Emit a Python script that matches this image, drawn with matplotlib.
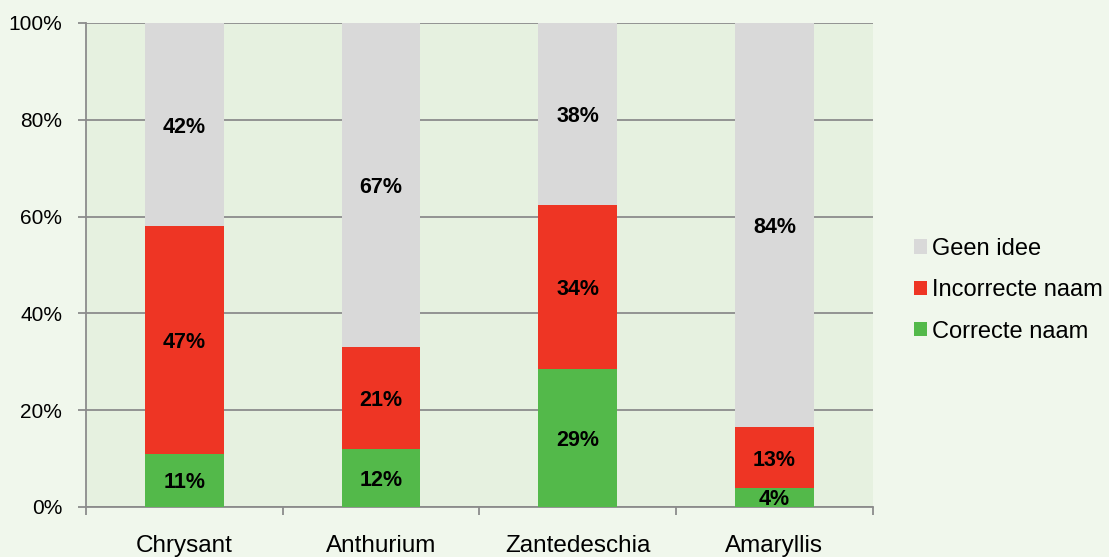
import matplotlib
matplotlib.use("Agg")
import matplotlib.pyplot as plt
import numpy as np

categories = ["Chrysant", "Anthurium", "Zantedeschia", "Amaryllis"]
correcte = [11.0, 12.0, 28.6, 3.9]
incorrecte = [47.0, 21.0, 33.7, 12.6]
geen_idee = [42.0, 67.0, 37.8, 83.6]
series_names = ["Correcte naam", "Incorrecte naam", "Geen idee"]
series_colors = ["#53B94A", "#EE3524", "#D9D9D9"]
yticks = [0, 20, 40, 60, 80, 100]
ytick_labels = ["0%", "20%", "40%", "60%", "80%", "100%"]

plt.rcParams["font.family"] = ["Liberation Sans", "DejaVu Sans"]

fig = plt.figure(figsize=(11.09, 5.57), dpi=100, facecolor="#F0F7EC")
ax = fig.add_axes([0.0775, 0.0898, 0.7095, 0.869])
ax.set_facecolor("#E6F1E0")

x = np.arange(len(categories))
bottom = np.zeros(len(categories))
handles = []
for vals, name, col in zip([correcte, incorrecte, geen_idee], series_names, series_colors):
    vals = np.array(vals)
    b = ax.bar(x, vals, width=0.40, bottom=bottom, color=col, label=name, zorder=3)
    handles.append(b)
    for xi, v, bt in zip(x, vals, bottom):
        ax.text(xi, bt + v / 2 - 0.5, f"{v:.0f}%", ha="center", va="center",
                fontsize=15.5, fontweight="bold", color="black", zorder=4)
    bottom = bottom + vals

ax.set_xlim(-0.5, len(categories) - 0.5)
ax.set_ylim(0, 100)
ax.set_yticks(yticks)
ax.set_yticklabels(ytick_labels, fontsize=15)
ax.yaxis.grid(True, color="#8C8C8C", linewidth=1.3, zorder=1)
ax.set_axisbelow(True)

ax.set_xticks(np.arange(len(categories) + 1) - 0.5)
ax.set_xticklabels([])
ax.set_xticks(x, minor=True)
ax.set_xticklabels(categories, minor=True, fontsize=17.5)
ax.tick_params(axis="x", which="minor", length=0, pad=20)
ax.tick_params(axis="x", which="major", length=6, width=1.3, color="#8C8C8C")
ax.tick_params(axis="y", length=6, width=1.3, color="#8C8C8C", pad=11)

for s in ["top", "right"]:
    ax.spines[s].set_visible(False)
for s in ["left", "bottom"]:
    ax.spines[s].set_color("#8C8C8C")
    ax.spines[s].set_linewidth(1.3)

leg = fig.legend(handles[::-1], series_names[::-1], loc="center left",
                 bbox_to_anchor=(0.824, 0.479), frameon=False, fontsize=17,
                 handlelength=0.55, handleheight=0.55, handletextpad=0.2,
                 labelspacing=0.82, borderpad=0, borderaxespad=0)

fig.savefig("out.png", dpi=100, facecolor=fig.get_facecolor())
